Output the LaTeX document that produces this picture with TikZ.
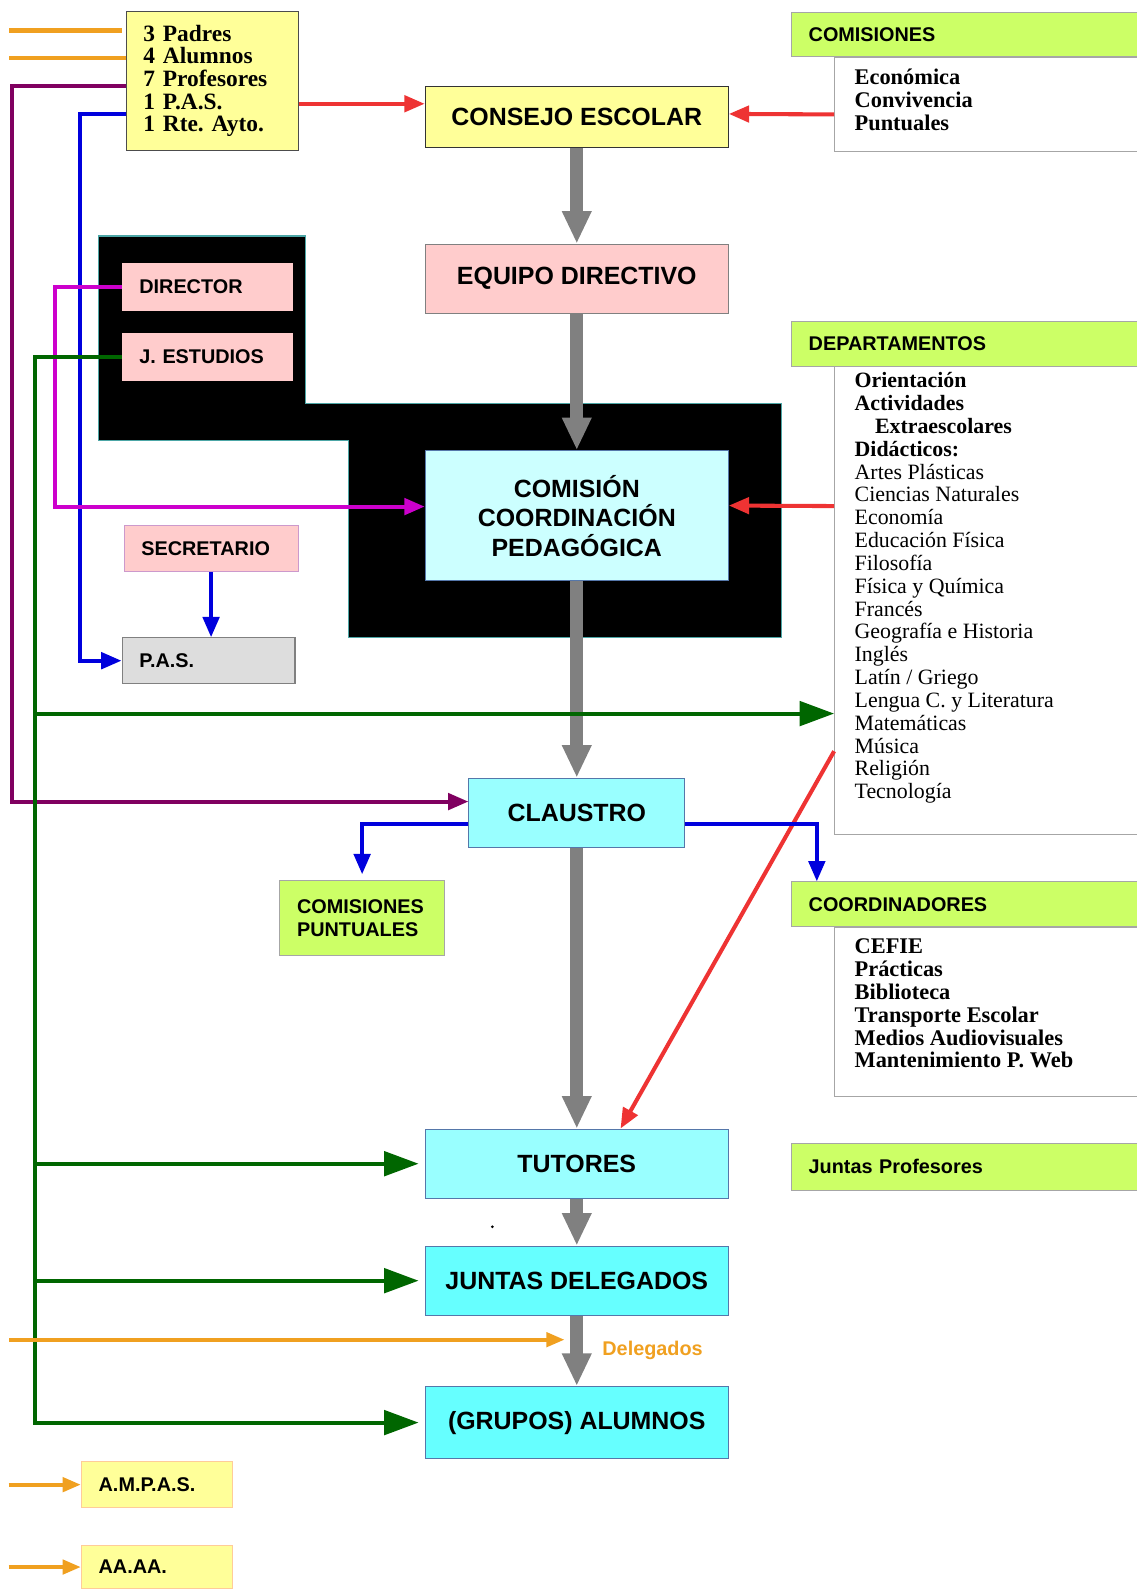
\documentclass[tikz,border=0pt]{standalone}
\usepackage{fontspec}
\setmainfont{Liberation Serif}
\setsansfont{Liberation Sans}
\usepackage{xcolor}
\usetikzlibrary{arrows.meta,calc}
\definecolor{amarillo}{HTML}{FFFF99}
\definecolor{rosa}{HTML}{FFCCCC}
\definecolor{celeste}{HTML}{CCFFFF}
\definecolor{turquesa}{HTML}{99FFFF}
\definecolor{cian}{HTML}{66FFFF}
\definecolor{lima}{HTML}{CCFF66}
\definecolor{gris}{HTML}{808080}
\definecolor{grisclaro}{HTML}{DDDDDD}
\definecolor{rojo}{HTML}{EE3333}
\definecolor{naranja}{HTML}{F0A020}
\definecolor{morado}{HTML}{800060}
\definecolor{fucsia}{HTML}{CC00CC}
\definecolor{azul}{HTML}{0000DD}
\definecolor{verde}{HTML}{006600}
\definecolor{borde}{HTML}{5577AA}
\tikzset{
	organo/.style={draw=borde, line width=1pt, minimum width=298pt, minimum height=68pt, inner sep=0pt, align=center, font=\sffamily\bfseries\fontsize{24.5}{29}\selectfont},
	etiqueta/.style={draw=#1, line width=1pt, inner xsep=17pt, inner ysep=0pt, align=left, font=\sffamily\bfseries\fontsize{19.5}{23}\selectfont},
	etiqueta/.default=gray,
	cabecera/.style={etiqueta=gray!70, fill=lima, text width=308pt, minimum height=44pt},
	listado/.style={draw=gray!70, line width=1pt, fill=white, anchor=north west, minimum width=300pt},
	texto/.style={anchor=north west, inner sep=0pt, align=left, font=\fontsize{21.5}{22.45}\selectfont},
	gruesa/.style={draw=gris, line width=13pt, -{Triangle[length=32pt, width=27pt]}},
	fina/.style={line width=4pt, -{Triangle[length=20pt, width=16pt]}},
	larga/.style={line width=4pt, -{Triangle[length=34pt, width=24pt]}},
	corta/.style={line width=4pt, -{Triangle[length=18pt, width=14pt]}}
}

\begin{document}
\begin{tikzpicture}[x=1pt, y=-1pt]
	\useasboundingbox (0, 0) rectangle (1117, 1568);
	\filldraw [fill=black, draw=teal!70, line width=1pt] (97, 232) -- (300, 232) -- (300, 397) -- (768, 397) -- (768, 627) -- (343, 627) -- (343, 433) -- (97, 433) -- cycle;

	\node [etiqueta=black!70, fill=amarillo, text width=135pt, minimum height=137pt, font=\bfseries\fontsize{23}{22.2}\selectfont] (consejeros) at (208.5, 79.5) {3 Padres\\4 Alumnos\\7 Profesores\\1 P.A.S.\\1 Rte.\ Ayto.};
	\node [organo, fill=amarillo, draw=black!80, minimum height=60pt] (ce) at (567, 115) {CONSEJO ESCOLAR};
	\node [organo, fill=rosa, draw=gray] (ed) at (567, 274) {EQUIPO DIRECTIVO};
	\node [organo, fill=celeste, minimum height=128pt] (ccp) at (567, 507) {COMISIÓN\\COORDINACIÓN\\PEDAGÓGICA};
	\node [organo, fill=turquesa, minimum width=212pt] (claustro) at (567, 799) {CLAUSTRO};
	\node [organo, fill=turquesa] (tutores) at (567, 1144) {TUTORES};
	\node [organo, fill=cian] (jd) at (567, 1259) {JUNTAS DELEGADOS};
	\node [organo, fill=cian, minimum height=71pt] (alumnos) at (567, 1398.5) {(GRUPOS) ALUMNOS};

	\node [etiqueta=rosa, fill=rosa, text width=134pt, minimum height=46pt] (director) at (204, 282) {DIRECTOR};
	\node [etiqueta=rosa, fill=rosa, text width=134pt, minimum height=46pt] (estudios) at (204, 351) {J. ESTUDIOS};
	\node [etiqueta=violet!40, fill=rosa, text width=137pt, minimum height=45pt] (secretario) at (207.5, 539.5) {SECRETARIO};
	\node [etiqueta, fill=grisclaro, text width=136pt, minimum height=45pt] (pas) at (205, 649.5) {P.A.S.};
	\node [etiqueta=gray!70, fill=lima, text width=128pt, minimum height=73pt] (puntuales) at (356, 902.5) {COMISIONES\\PUNTUALES};
	\node [etiqueta=orange!40, fill=amarillo, text width=115pt, minimum height=45pt] (ampas) at (154.5, 1459.5) {A.M.P.A.S.};
	\node [etiqueta=orange!40, fill=amarillo, text width=115pt, minimum height=43pt] (aaaa) at (154.5, 1540.5) {AA.AA.};

	\node [listado, minimum height=92pt] (comlista) at (820, 56) {};
	\node [cabecera] (comisiones) at (949, 34) {COMISIONES};
	\node [texto, font=\bfseries\fontsize{22}{22.5}\selectfont] (comtexto) at (840, 68) {Económica\\Convivencia\\Puntuales};
	\node [listado, minimum height=460pt] (deptlista) at (820, 360) {};
	\node [cabecera] (departamentos) at (949, 338) {DEPARTAMENTOS};
	\node [texto] (depttexto) at (840, 366) {\textbf{Orientación}\\\textbf{Actividades}\\\hspace*{20pt}\textbf{Extraescolares}\\\textbf{Didácticos:}\\Artes Plásticas\\Ciencias Naturales\\Economía\\Educación Física\\Filosofía\\Física y Química\\Francés\\Geografía e Historia\\Inglés\\Latín / Griego\\Lengua C. y Literatura\\Matemáticas\\Música\\Religión\\Tecnología};
	\node [listado, minimum height=166pt] (coordlista) at (820, 911) {};
	\node [cabecera] (coordinadores) at (949, 889) {COORDINADORES};
	\node [texto, font=\bfseries\fontsize{22}{22.4}\selectfont] (coordtexto) at (840, 923) {CEFIE\\Prácticas\\Biblioteca\\Transporte Escolar\\Medios Audiovisuales\\Mantenimiento P. Web};
	\node [cabecera, minimum height=46pt] (juntasprof) at (949, 1147) {Juntas Profesores};
	\node [anchor=west, inner sep=0pt, text=naranja, font=\sffamily\bfseries\fontsize{19.5}{23}\selectfont] (rotulo) at (592, 1328) {Delegados};

	\draw [gruesa] (ce) to (ed);
	\draw [gruesa] (ed) to (ccp);
	\draw [gruesa] (ccp) to (claustro);
	\draw [gruesa] (claustro) to (tutores);
	\draw [gruesa] (tutores) to (jd);
	\draw [gruesa] (jd) to (alumnos);

	\coordinate (padres) at (9, 30);
	\coordinate (alumnado) at (9, 57);
	\coordinate (profesores) at (12, 85);
	\coordinate (personal) at (79, 112);
	\coordinate (representantes) at (9, 1317);
	\draw [naranja, line width=4pt, shorten >=4pt] (padres) to (padres -| consejeros.west);
	\draw [naranja, line width=4pt] (alumnado) to (alumnado -| consejeros.west);
	\draw [morado, fina] (profesores -| consejeros.west) to (profesores) |- ([yshift=11pt]claustro.west);
	\draw [azul, fina] (personal -| consejeros.west) to (personal) |- (pas.west);
	\draw [rojo, fina] ([yshift=-22.5pt]consejeros.east) to ([yshift=13pt]ce.west);
	\draw [rojo, fina] ([yshift=-10pt]comlista.west) to ([yshift=3pt]ce.east);
	\draw [rojo, fina] ([yshift=93pt]deptlista.west) to ([yshift=10pt]ccp.east);
	\draw [rojo, fina] ([yshift=-148pt]deptlista.west) to ([xshift=43pt]tutores.north);
	\draw [fucsia, fina] (director.west) -- ++(-65, 0) |- ([yshift=9pt]ccp.west);
	\draw [verde, larga] (estudios.west) -- ++(-85, 0) coordinate (rail) |- ([xshift=-6pt]alumnos.west);
	\path ([yshift=-111pt]deptlista.west) coordinate (deptverde);
	\draw [verde, larga] (rail |- deptverde) to (deptverde);
	\draw [verde, larga] (rail |- tutores.west) to ([xshift=-6pt]tutores.west);
	\draw [verde, larga] (rail |- jd.west) to ([xshift=-6pt]jd.west);
	\draw [azul, fina] (secretario.south) to (secretario.south |- pas.north);
	\draw [azul, fina, shorten >=6pt] ([yshift=-11pt]claustro.west) -| (puntuales.north);
	\draw [azul, fina] ([yshift=-11pt]claustro.east) -| ([xshift=-146pt]coordinadores.north);
	\draw [naranja, corta, shorten >=12pt] (representantes) to (representantes -| jd.south);
	\draw [naranja, corta] ([xshift=-71pt]ampas.west) to (ampas.west);
	\draw [naranja, corta] ([xshift=-71pt]aaaa.west) to (aaaa.west);
	\fill (484, 1206) circle (1.5pt);
\end{tikzpicture}
\end{document}
